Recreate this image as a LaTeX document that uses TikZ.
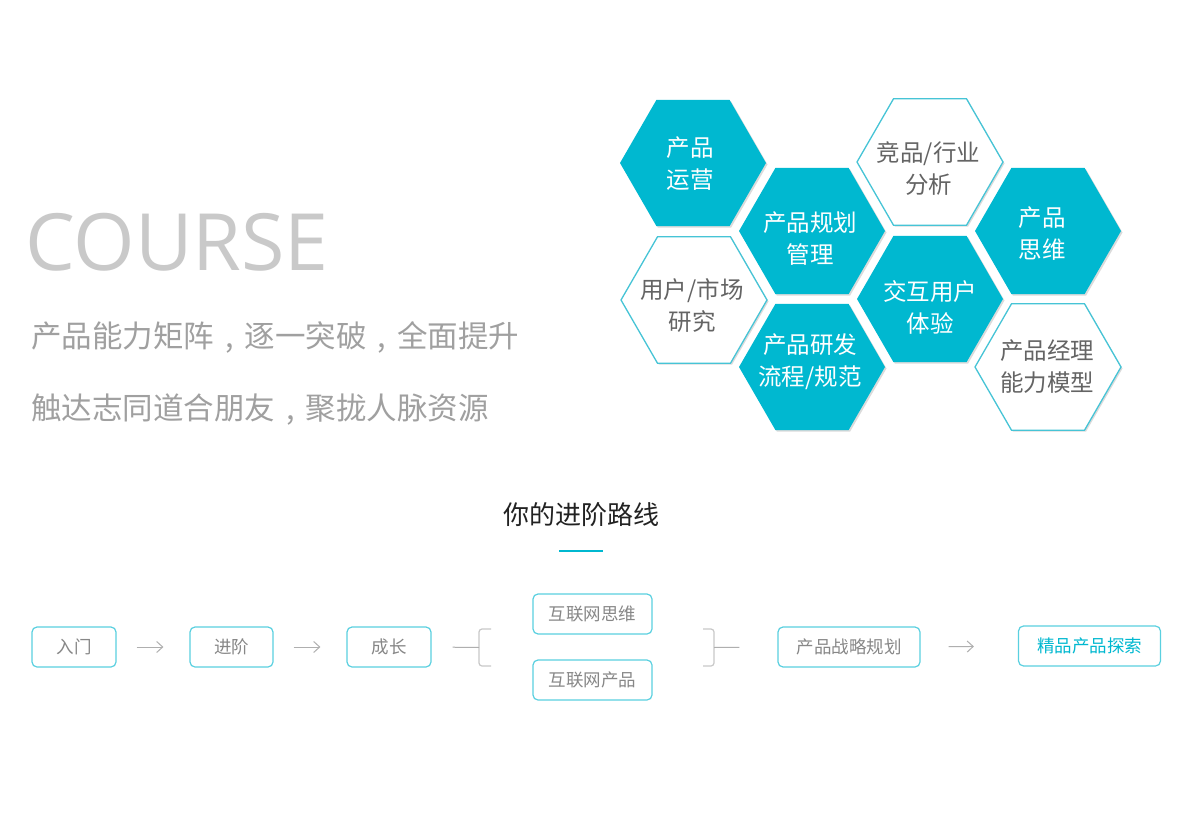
\documentclass[tikz,border=0pt]{standalone}
\usepackage{fontspec}
\setmainfont{Noto Sans CJK SC}
\newfontfamily\latinfont{Open Sans}
\usetikzlibrary{shapes.geometric,arrows.meta}
\definecolor{hexcyan}{RGB}{0,184,208}
\definecolor{hexline}{RGB}{70,196,214}
\definecolor{boxline}{RGB}{90,208,224}
\definecolor{coursegray}{RGB}{201,201,201}
\definecolor{subgray}{RGB}{160,160,160}
\definecolor{hexgray}{RGB}{100,100,100}
\definecolor{boxtext}{RGB}{135,135,135}
\definecolor{arrowgray}{RGB}{175,175,175}
\definecolor{bracketgray}{RGB}{200,200,200}
\definecolor{titletext}{RGB}{34,34,34}
\newcommand{\ccomma}{\hbox to 1em{\hss,\hss}}
\tikzset{
  hexbase/.style={regular polygon, regular polygon sides=6, minimum size=146pt, inner sep=0pt, outer sep=0pt},
  hexfill/.style={hexbase, fill=hexcyan},
  hexwhite/.style={hexbase, fill=white, draw=hexline, line width=1.3pt},
  hexshadow/.style={hexbase, fill=black!14},
  hexlabel/.style={align=center, inner sep=0pt, font=\fontsize{23.5}{32}\selectfont},
  onfill/.style={hexlabel, text=white},
  onwhite/.style={hexlabel, text=hexgray},
  flowbox/.style={draw=boxline, line width=1.2pt, rounded corners=5pt, fill=white,
    minimum height=40pt, inner sep=0pt, text=boxtext, font=\fontsize{17.5}{20}\selectfont},
  flowarrow/.style={draw=arrowgray, line width=1pt, -{Straight Barb[length=6pt,width=11pt]}},
  flowline/.style={draw=arrowgray, line width=1pt},
  bracket/.style={draw=bracketgray, line width=1.2pt, rounded corners=3pt},
  subline/.style={anchor=west, inner sep=0pt, text=subgray, font=\fontsize{30.5}{34}\selectfont}
}
\begin{document}
\begin{tikzpicture}[x=1pt,y=-1pt]
\useasboundingbox[fill=white] (0,0) rectangle (1203,816);

% left texts
\node[anchor=base west, inner sep=0pt, text=coursegray, font=\latinfont\fontsize{79}{79}\selectfont] (course) at (25,270) {COURSE};
\node[subline] (sub1) at (31,337) {产品能力矩阵\ccomma 逐一突破\ccomma 全面提升};
\node[subline] (sub2) at (31,410) {触达志同道合朋友\ccomma 聚拢人脉资源};

% hexagon shadows
\node[hexshadow] (s1) at (694.5,164.5) {};
\node[hexshadow] (s2) at (813.5,232.5) {};
\node[hexshadow] (s3) at (931.5,163.5) {};
\node[hexshadow] (s4) at (1049.5,232.5) {};
\node[hexshadow] (s5) at (695.5,301.5) {};
\node[hexshadow] (s6) at (931.5,300.5) {};
\node[hexshadow] (s7) at (813.5,368.5) {};
\node[hexshadow] (s8) at (1049.5,368.5) {};

% hexagons
\node[hexfill]  (h1) at (693,163) {};
\node[hexfill]  (h2) at (812,231) {};
\node[hexwhite] (h3) at (930,162) {};
\node[hexfill]  (h4) at (1048,231) {};
\node[hexwhite] (h5) at (694,300) {};
\node[hexfill]  (h6) at (930,299) {};
\node[hexfill]  (h7) at (812,367) {};
\node[hexwhite] (h8) at (1048,367) {};

% hexagon labels
\node[onfill]  (t1) at (690,164) {产品\\运营};
\node[onfill]  (t2) at (810,239) {产品规划\\管理};
\node[onwhite] (t3) at (928.5,169) {竞品/行业\\分析};
\node[onfill]  (t4) at (1042,234) {产品\\思维};
\node[onwhite] (t5) at (692,306) {用户/市场\\研究};
\node[onfill]  (t6) at (930,307) {交互用户\\体验};
\node[onfill]  (t7) at (810,362) {产品研发\\流程/规范};
\node[onwhite] (t8) at (1047,367) {产品经理\\能力模型};

% title
\node[inner sep=0pt, text=titletext, font=\fontsize{26}{30}\selectfont] (title) at (581,515) {你的进阶路线};
\draw[hexcyan, line width=1.5pt] (559,551) -- (603,551);

% flow boxes
\node[flowbox, minimum width=84pt]  (n1) at (74,647) {入门};
\node[flowbox, minimum width=83pt]  (n2) at (231.5,647) {进阶};
\node[flowbox, minimum width=84pt]  (n3) at (389,647) {成长};
\node[flowbox, minimum width=119pt] (n4) at (592.5,614) {互联网思维};
\node[flowbox, minimum width=119pt] (n5) at (592.5,680) {互联网产品};
\node[flowbox, minimum width=142pt] (n6) at (849,647) {产品战略规划};
\node[flowbox, minimum width=142pt, text=hexcyan] (n7) at (1089.5,646) {精品产品探索};

% brackets
\coordinate (lbr) at (479,647.5);
\coordinate (rbr) at (714,647.5);
\draw[bracket] (491,629) -- (479,629) -- (479,666) -- (491,666);
\draw[bracket] (703,629) -- (714,629) -- (714,666) -- (703,666);

% connectors
\draw[flowarrow, shorten <=20pt, shorten >=26pt] (n1.east) -- (n2.west);
\draw[flowarrow, shorten <=20pt, shorten >=26pt] (n2.east) -- (n3.west);
\draw[flowline, shorten <=21pt] (n3.east) -- (lbr);
\draw[flowline, shorten >=38pt] (rbr) -- (n6.west);
\draw[flowarrow, shorten <=28pt, shorten >=44pt] (n6.east) -- (n7.west);
\end{tikzpicture}
\end{document}
